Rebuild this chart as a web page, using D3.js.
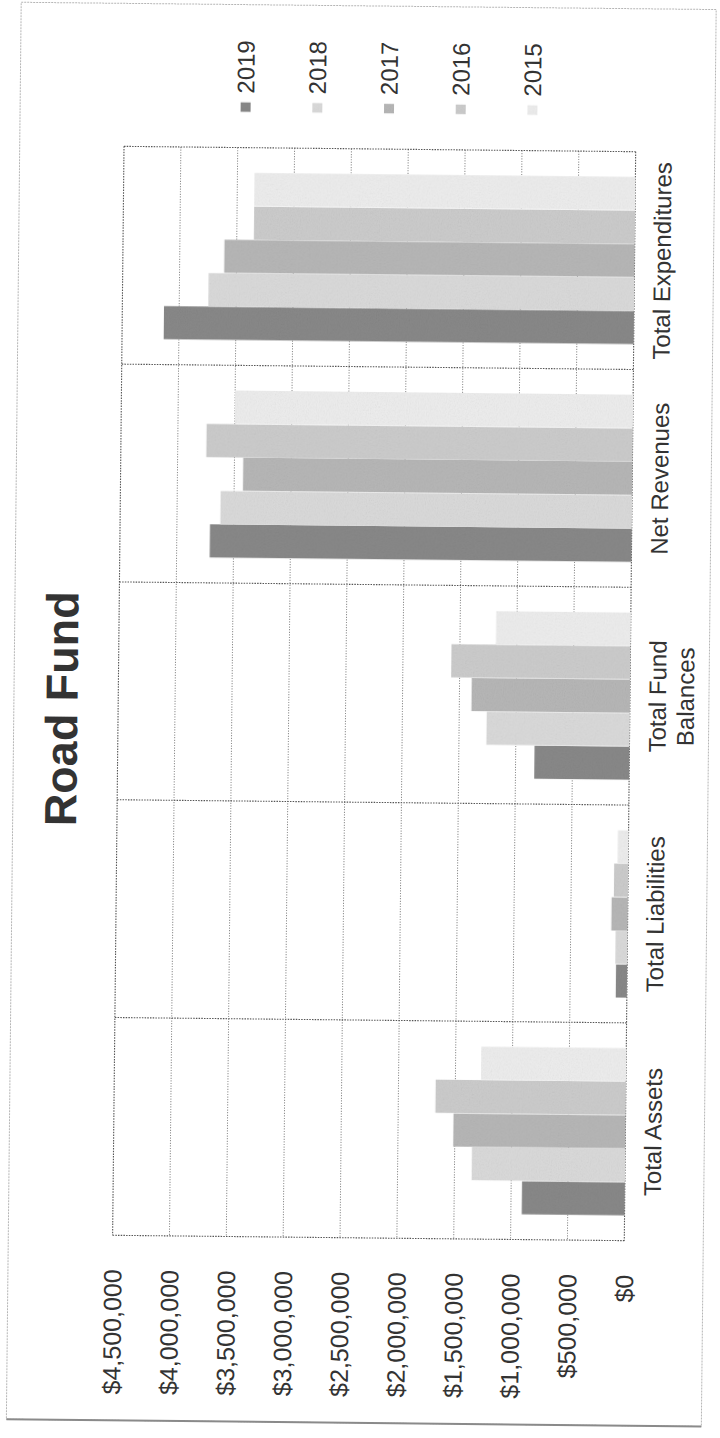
<!DOCTYPE html>
<html>
<head>
<meta charset="utf-8">
<script src="https://cdn.jsdelivr.net/npm/d3@7"></script>
<style>
  html, body { margin: 0; padding: 0; background: #fff; }
  svg { display: block; }
  text { font-family: "Liberation Sans", Arial, sans-serif; fill: #333; }
</style>
</head>
<body>
<div id="chart"></div>
<script>
// Road Fund summary, five fiscal years (drawn turned on its side, as printed)
const categories = ["Total Assets", "Total Liabilities", "Total Fund Balances", "Net Revenues", "Total Expenditures"];
const categoryLines = [["Total Assets"], ["Total Liabilities"], ["Total Fund", "Balances"], ["Net Revenues"], ["Total Expenditures"]];
const years = ["2019", "2018", "2017", "2016", "2015"];

const values2019 = [905000, 100000, 835000, 3710000, 4135000];
const values2018 = [1350000, 105000, 1260000, 3620000, 3745000];
const values2017 = [1515000, 145000, 1395000, 3425000, 3610000];
const values2016 = [1675000, 125000, 1575000, 3750000, 3350000];
const values2015 = [1275000, 95000, 1185000, 3500000, 3350000];

const valueTicks = [0, 500000, 1000000, 1500000, 2000000, 2500000, 3000000, 3500000, 4000000, 4500000];
const titleText = "Road Fund";

const seriesValues = { "2019": values2019, "2018": values2018, "2017": values2017, "2016": values2016, "2015": values2015 };
const seriesColor = { "2019": "#878787", "2018": "#d8d8d8", "2017": "#b5b5b5", "2016": "#cacaca", "2015": "#ebebeb" };

const W = 720, H = 1438;
const svg = d3.select("#chart").append("svg").attr("width", W).attr("height", H);
svg.append("rect").attr("width", W).attr("height", H).attr("fill", "#fff");

// photocopy grain on the filled bars
const defs = svg.append("defs");
const grain = defs.append("filter").attr("id", "grain")
  .attr("x", 0).attr("y", 0).attr("width", "100%").attr("height", "100%");
grain.append("feTurbulence").attr("type", "fractalNoise").attr("baseFrequency", "0.9 0.6")
  .attr("numOctaves", 2).attr("seed", 7).attr("result", "noise");
grain.append("feColorMatrix").attr("in", "noise").attr("type", "saturate").attr("values", 0).attr("result", "mono");
const ct = grain.append("feComponentTransfer").attr("in", "mono").attr("result", "shade");
["feFuncR", "feFuncG", "feFuncB"].forEach(f => ct.append(f).attr("type", "linear").attr("slope", 0.35).attr("intercept", 0.78));
grain.append("feBlend").attr("in", "SourceGraphic").attr("in2", "shade").attr("mode", "multiply").attr("result", "mix");
grain.append("feComposite").attr("in", "mix").attr("in2", "SourceGraphic").attr("operator", "in");

// the printed sheet sits very slightly askew
const page = svg.append("g").attr("transform", "rotate(0.6, 374, 693)");

// outer chart border
page.append("rect")
  .attr("x", 14).attr("y", 6).attr("width", 695).attr("height", 1417)
  .attr("fill", "none").attr("stroke", "#b5b5b5").attr("stroke-width", 1)
  .attr("stroke-dasharray", "2,1");
page.append("line")
  .attr("x1", 14).attr("x2", 709).attr("y1", 1423).attr("y2", 1423)
  .attr("stroke", "#8a8a8a").attr("stroke-width", 2);

const plot = { left: 118.3, right: 630, top: 149, bottom: 1238 };

const x = d3.scaleLinear().domain([0, 4500000]).range([plot.right, plot.left]);
const y = d3.scaleBand().domain(categories).range([plot.bottom, plot.top]);
const bw = y.bandwidth();
const pad = bw * 0.75 / 6.5;
const yInner = d3.scaleBand().domain(years).range([bw - pad, pad]);

// value gridlines
page.append("g").selectAll("line")
  .data(valueTicks.filter(t => t > 0 && t < 4500000))
  .join("line")
  .attr("x1", d => x(d)).attr("x2", d => x(d))
  .attr("y1", plot.top).attr("y2", plot.bottom)
  .attr("stroke", "#8c8c8c").attr("stroke-width", 1)
  .attr("stroke-dasharray", "1.2,1.4");

// category boundaries
const bounds = categories.map(c => y(c)).concat([y(categories[0]) + bw]);
page.append("g").selectAll("line")
  .data(bounds)
  .join("line")
  .attr("x1", plot.left).attr("x2", plot.right)
  .attr("y1", d => d).attr("y2", d => d)
  .attr("stroke", "#555").attr("stroke-width", 1.1)
  .attr("stroke-dasharray", "1.5,1.2");

// outer value lines of the plot ($4.5M edge and the $0 axis)
page.append("g").selectAll("line")
  .data([4500000, 0])
  .join("line")
  .attr("x1", d => x(d)).attr("x2", d => x(d))
  .attr("y1", plot.top).attr("y2", plot.bottom)
  .attr("stroke", "#555").attr("stroke-width", 1.1)
  .attr("stroke-dasharray", "1.5,1.2");

// bars
const barData = [];
categories.forEach((c, i) => {
  years.forEach(yr => barData.push({ category: c, year: yr, value: seriesValues[yr][i] }));
});
page.append("g").selectAll("rect")
  .data(barData)
  .join("rect")
  .attr("x", d => x(d.value))
  .attr("width", d => x(0) - x(d.value))
  .attr("y", d => y(d.category) + yInner(d.year))
  .attr("height", yInner.bandwidth())
  .attr("fill", d => seriesColor[d.year])
  .attr("filter", "url(#grain)");

// value axis labels
const axis = page.append("g")
  .attr("transform", `translate(0, 1272)`)
  .call(d3.axisBottom(x).tickValues(valueTicks).tickFormat(d3.format("$,")).tickSize(0));
axis.select(".domain").remove();
axis.selectAll("text")
  .attr("x", 0).attr("y", 0).attr("dy", "0.35em")
  .attr("transform", "rotate(-90)")
  .attr("text-anchor", "end")
  .style("font-family", "'Liberation Sans', Arial, sans-serif")
  .style("font-size", "25px")
  .attr("fill", "#333");

// category labels
const catG = page.append("g").selectAll("g")
  .data(categories)
  .join("g")
  .attr("transform", d => `translate(666, ${y(d) + bw / 2}) rotate(-90)`);
catG.append("text")
  .attr("text-anchor", "middle")
  .style("font-size", "24px")
  .selectAll("tspan")
  .data((d, i) => categoryLines[i])
  .join("tspan")
  .attr("x", 0)
  .attr("y", (d, j) => j * 28)
  .text(d => d);

// legend
const legend = page.append("g").selectAll("g")
  .data(years)
  .join("g")
  .attr("transform", (d, i) => `translate(${239.5 + i * 71.7}, 0)`);
legend.append("rect")
  .attr("x", -5).attr("y", 103.5).attr("width", 10).attr("height", 10)
  .attr("fill", d => seriesColor[d])
  .attr("filter", "url(#grain)");
legend.append("text")
  .attr("transform", "translate(0, 95) rotate(-90)")
  .attr("dy", "0.35em")
  .attr("text-anchor", "start")
  .style("font-size", "24px")
  .text(d => d);

// title
page.append("text")
  .attr("transform", "translate(77.5, 712) rotate(-90)")
  .attr("text-anchor", "middle")
  .style("font-size", "45px")
  .style("font-weight", "bold")
  .text(titleText);
</script>
</body>
</html>
